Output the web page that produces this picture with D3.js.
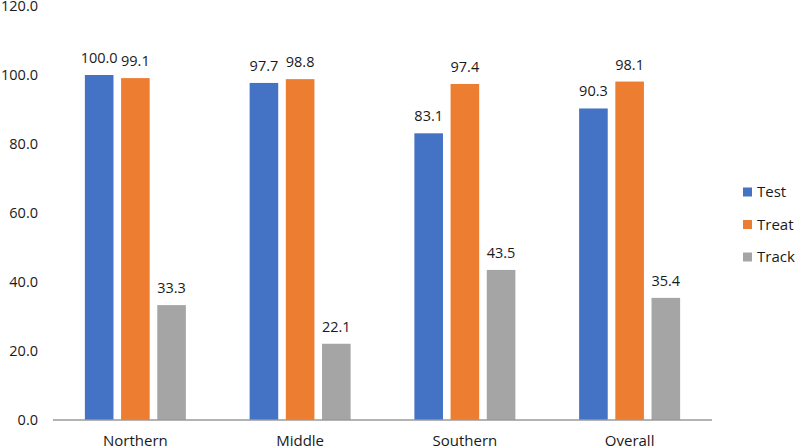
<!DOCTYPE html>
<html>
<head>
<meta charset="utf-8">
<script src="https://cdn.jsdelivr.net/npm/d3@7"></script>
<style>
  body { margin: 0; background: #fff; }
  text { font-family: "Open Sans", sans-serif; fill: #1a1a1a; }
</style>
</head>
<body>
<div id="chart"></div>
<script>
// data
var regions = ["Northern", "Middle", "Southern", "Overall"];
var seriesNames = ["Test", "Treat", "Track"];
var testValues = [100.0, 97.7, 83.1, 90.3];
var treatValues = [99.1, 98.8, 97.4, 98.1];
var trackValues = [33.3, 22.1, 43.5, 35.4];
var yTicks = [0, 20, 40, 60, 80, 100, 120];
var colors = ["#4472C4", "#ED7D31", "#A5A5A5"];

var allValues = [testValues, treatValues, trackValues];

var width = 795, height = 448;
var margin = {top: 6, right: 83, bottom: 28, left: 53};
var plotW = width - margin.left - margin.right,
    plotH = height - margin.top - margin.bottom;

var svg = d3.select("#chart").append("svg")
    .attr("width", width)
    .attr("height", height);

var plot = svg.append("g")
    .attr("transform", "translate(" + margin.left + "," + margin.top + ")");

var x0 = d3.scaleBand().domain(regions).range([0, plotW]).paddingInner(0.387).paddingOuter(0.1935);
var x1 = d3.scaleBand().domain(seriesNames).range([0, x0.bandwidth()]).paddingInner(0.21);
var y = d3.scaleLinear().domain([0, 120]).range([plotH, 0]);

// y tick labels (no axis line in the original)
plot.selectAll(".ytick")
    .data(yTicks)
    .enter().append("text")
    .attr("x", -15)
    .attr("y", function(d) { return y(d); })
    .attr("dy", "0.35em")
    .attr("text-anchor", "end")
    .style("font-size", "14.5px")
    .text(function(d) { return d3.format(".1f")(d); });

// bars
var groups = plot.selectAll(".grp")
    .data(regions)
    .enter().append("g")
    .attr("transform", function(d) { return "translate(" + x0(d) + ",0)"; });

groups.each(function(region, i) {
  var g = d3.select(this);
  seriesNames.forEach(function(s, j) {
    var v = allValues[j][i];
    g.append("rect")
      .attr("x", x1(s))
      .attr("y", y(v))
      .attr("width", x1.bandwidth())
      .attr("height", plotH - y(v))
      .attr("fill", colors[j]);
    g.append("text")
      .attr("x", x1(s) + x1.bandwidth() / 2)
      .attr("y", y(v) - 12)
      .attr("text-anchor", "middle")
      .style("font-size", "14.5px")
      .text(d3.format(".1f")(v));
  });
});

// baseline
plot.append("line")
    .attr("x1", 0).attr("x2", plotW)
    .attr("y1", plotH).attr("y2", plotH)
    .attr("stroke", "#9a9a9a")
    .attr("stroke-width", 1.5);

// category labels
plot.selectAll(".xlab")
    .data(regions)
    .enter().append("text")
    .attr("x", function(d) { return x0(d) + x0.bandwidth() / 2; })
    .attr("y", plotH + 26)
    .attr("text-anchor", "middle")
    .style("font-size", "15px")
    .text(function(d) { return d; });

// legend
var legend = svg.append("g").attr("transform", "translate(743,192)");
seriesNames.forEach(function(s, j) {
  legend.append("rect")
    .attr("x", 0).attr("y", j * 32.5 - 4.5)
    .attr("width", 9).attr("height", 9)
    .attr("fill", colors[j]);
  legend.append("text")
    .attr("x", 14).attr("y", j * 32.5)
    .attr("dy", "0.35em")
    .style("font-size", "15px")
    .text(s);
});
</script>
</body>
</html>
